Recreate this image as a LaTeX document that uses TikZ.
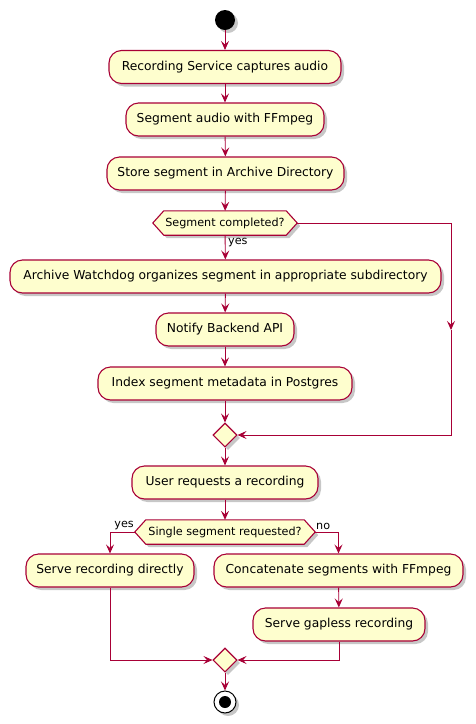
\documentclass[tikz,border=0pt]{standalone}
\usepackage{fontspec}
\setmainfont{DejaVu Sans}
\usetikzlibrary{arrows.meta,shadows,backgrounds,positioning,shapes.geometric}
\definecolor{pumlred}{HTML}{A80036}
\definecolor{pumlfill}{HTML}{FEFECE}
\tikzset{
  shad/.style={drop shadow={shadow xshift=3pt,shadow yshift=-3pt,fill=black,opacity=0.22}},
  act/.style={draw=pumlred, fill=pumlfill, rounded corners=12.5pt, line width=1.1pt,
    minimum height=33pt, inner sep=0pt, font=\fontsize{12.3}{14}\selectfont, shad},
  hexbox/.style={minimum height=24pt, inner sep=0pt, font=\fontsize{11.2}{13}\selectfont},
  hexdraw/.style={draw=pumlred, fill=pumlfill, line width=1.1pt, shad},
  merge/.style={diamond, draw=pumlred, fill=pumlfill, line width=1.1pt, minimum width=24pt, minimum height=24pt, inner sep=0pt, shad},
  conn/.style={draw=pumlred, line width=0.9pt},
  arr/.style={conn, -{Stealth[length=9pt,width=8pt,inset=3.5pt]}},
  lbl/.style={font=\fontsize{11.2}{13}\selectfont, inner sep=0pt},
}
\begin{document}
\begin{tikzpicture}[x=1pt,y=-1pt]
\useasboundingbox (0,0) rectangle (475,724);
\node[circle, fill=black, minimum size=20pt, inner sep=0pt, shad] (start) at (225,20) {};
\node[act, minimum width=232pt] (b1) at (225,67) {Recording Service captures audio};
\node[act, minimum width=198pt] (b2) at (225,119.5) {Segment audio with FFmpeg};
\node[act, minimum width=237pt] (b3) at (225.5,173.5) {Store segment in Archive Directory};
\node[hexbox, minimum width=144pt] (h1) at (225,223) {Segment completed?};
\node[act, minimum width=431pt] (b4) at (225.5,276.5) {Archive Watchdog organizes segment in appropriate subdirectory};
\node[act, minimum width=138pt] (b5) at (225,329.5) {Notify Backend API};
\node[act, minimum width=254pt] (b6) at (225,383.5) {Index segment metadata in Postgres};
\node[merge] (m1) at (225,435) {};
\node[act, minimum width=186pt] (b7) at (225,482.5) {User requests a recording};
\node[hexbox, minimum width=180pt] (h2) at (225,532) {Single segment requested?};
\node[act, minimum width=168pt] (b8) at (110,570.5) {Serve recording directly};
\node[act, minimum width=249pt] (b9) at (338.5,570.5) {Concatenate segments with FFmpeg};
\node[act, minimum width=172pt] (b10) at (339,624.5) {Serve gapless recording};
\node[merge] (m2) at (225,660) {};
\node[circle, draw=black, fill=white, line width=1pt, minimum size=22pt, inner sep=0pt, shad] (stop) at (225,702) {};
\node[circle, fill=black, minimum size=12pt, inner sep=0pt] (stopin) at (stop) {};
\begin{scope}[on background layer]
\path[hexdraw] (h1.west) -- ([xshift=11pt]h1.north west) -- ([xshift=-11pt]h1.north east) -- (h1.east) -- ([xshift=-11pt]h1.south east) -- ([xshift=11pt]h1.south west) -- cycle;
\path[hexdraw] (h2.west) -- ([xshift=11pt]h2.north west) -- ([xshift=-11pt]h2.north east) -- (h2.east) -- ([xshift=-11pt]h2.south east) -- ([xshift=11pt]h2.south west) -- cycle;
\end{scope}
\coordinate (r1) at (451,330);
\draw[arr] (start) -- (b1);
\draw[arr] (b1) -- (b2);
\draw[arr] (b2) -- (b3);
\draw[arr] (b3) -- (h1);
\draw[arr] (h1) -- (b4);
\node[lbl, anchor=west] (ly1) at (228,242.5) {yes};
\draw[arr] (b4) -- (b5);
\draw[arr] (b5) -- (b6);
\draw[arr] (b6) -- (m1);
\draw[arr] (h1.east) -| (r1);
\draw[arr] (r1) |- (m1.east);
\draw[arr] (m1) -- (b7);
\draw[arr] (b7) -- (h2);
\draw[arr] (h2.west) -| (b8.north);
\draw[arr] (h2.east) -| (b9.north);
\node[lbl, anchor=east] (ly2) at (134,526) {yes};
\node[lbl, anchor=west] (ln2) at (316,526) {no};
\draw[arr] (b9) -- (b10);
\draw[arr] (b8.south) |- (m2.west);
\draw[arr] (b10.south) |- (m2.east);
\draw[arr] (m2) -- (stop);
\end{tikzpicture}
\end{document}
